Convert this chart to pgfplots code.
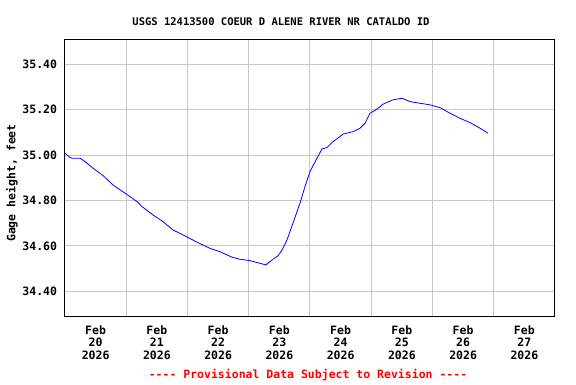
\documentclass[border=0pt]{standalone}
\usepackage{fontspec}
\setmainfont{DejaVu Sans Mono}
\setmonofont{DejaVu Sans Mono}
\usepackage{pgfplots}
\pgfplotsset{compat=1.18}
\definecolor{gridgray}{RGB}{200,200,200}
\definecolor{lineblue}{RGB}{0,0,255}
\definecolor{provred}{RGB}{255,0,0}
\begin{document}
\begin{tikzpicture}
\path (0,0) rectangle (576pt,384pt);
\begin{axis}[
  at={(65pt,68pt)}, anchor=south west, scale only axis,
  width=490pt, height=277pt,
  xmin=0, xmax=8, ymin=34.291, ymax=35.511,
  xtick={1,2,3,4,5,6,7}, xticklabels={},
  ytick={34.4,34.6,34.8,35.0,35.2,35.4},
  yticklabels={34.40,34.60,34.80,35.00,35.20,35.40},
  grid=major, major grid style={gridgray, line width=1pt},
  major tick length=0pt,
  axis line style={line width=1pt},
  ticklabel style={font=\fontsize{11.5}{12.7}\selectfont\ttfamily\bfseries},
  yticklabel style={anchor=east, inner sep=0pt, xshift=-7.7pt},
  extra x ticks={0.5,1.5,2.5,3.5,4.5,5.5,6.5,7.5},
  extra x tick labels={{Feb\\20\\2026},{Feb\\21\\2026},{Feb\\22\\2026},{Feb\\23\\2026},{Feb\\24\\2026},{Feb\\25\\2026},{Feb\\26\\2026},{Feb\\27\\2026}},
  extra x tick style={grid=none, major tick length=0pt,
    xticklabel style={align=center, anchor=north, inner sep=0pt, yshift=-9.3pt}},
]
\addplot[lineblue, line width=0.8pt] coordinates {
(0.000,35.008) (0.082,34.989) (0.114,34.986) (0.245,34.986) (0.327,34.971)
(0.457,34.942) (0.620,34.910) (0.784,34.868) (0.980,34.832) (1.176,34.795)
(1.257,34.773) (1.437,34.736) (1.600,34.707) (1.763,34.670) (1.959,34.644)
(2.171,34.614) (2.367,34.589) (2.531,34.574) (2.727,34.550) (2.857,34.541)
(3.020,34.535) (3.184,34.523) (3.282,34.516) (3.380,34.538) (3.478,34.556)
(3.543,34.582) (3.624,34.626) (3.722,34.700) (3.837,34.788) (3.918,34.861)
(4.000,34.927) (4.114,34.986) (4.196,35.027) (4.278,35.033) (4.376,35.059)
(4.539,35.092) (4.702,35.103) (4.816,35.118) (4.898,35.140) (4.980,35.184)
(5.094,35.202) (5.192,35.224) (5.355,35.243) (5.502,35.250) (5.633,35.235)
(5.796,35.228) (5.959,35.221) (6.122,35.209) (6.286,35.184) (6.449,35.162)
(6.612,35.143) (6.776,35.118) (6.906,35.096)
};
\end{axis}
\node[anchor=base, inner sep=0pt, font=\fontsize{10.5}{12}\selectfont\ttfamily\bfseries] at (281pt,359pt) {USGS 12413500 COEUR D ALENE RIVER NR CATALDO ID};
\node[anchor=base, inner sep=0pt, text=provred, font=\fontsize{11.5}{12.7}\selectfont\ttfamily\bfseries] at (308pt,5.7pt) {---- Provisional Data Subject to Revision ----};
\node[rotate=90, inner sep=0pt, font=\fontsize{11.5}{12.7}\selectfont\ttfamily\bfseries] at (12pt,201pt) {Gage height, feet};
\end{tikzpicture}
\end{document}
